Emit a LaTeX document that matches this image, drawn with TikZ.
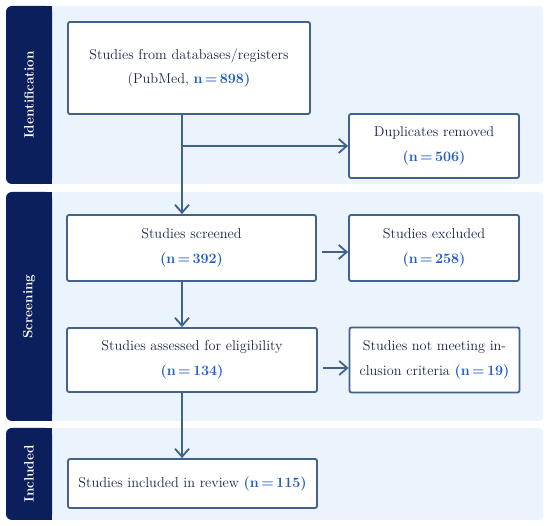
\documentclass[tikz,border=0pt]{standalone}
\usetikzlibrary{arrows.meta,positioning}
\definecolor{navy}{HTML}{0B1F5C}
\definecolor{pale}{HTML}{EBF3FD}
\definecolor{frame}{HTML}{41628A}
\definecolor{nblue}{HTML}{1F5CC8}
\definecolor{ink}{HTML}{1A2748}
\newcommand{\nval}[1]{\textcolor{nblue}{\textbf{#1}}}

\begin{document}
\begin{tikzpicture}[x=1pt,y=1pt,>={Straight Barb[length=8pt,width=14pt]},node distance=242.5pt]

	% Define node styles
	\tikzstyle{stage box} = [draw=frame, line width=1.8pt, rounded corners=2pt, fill=white, text=ink, align=center, font=\fontsize{14.3}{24.5}\selectfont, inner sep=0pt]
	\tikzstyle{band label} = [rotate=90, text=white, font=\fontsize{13.5}{15}\selectfont\bfseries]
	\tikzstyle{flow} = [draw=frame, line width=1.8pt, ->]

	\useasboundingbox (0,0) rectangle (550,526);

	% Draw the three bands
	\foreach \ytop/\ybot/\lab [count=\i] in {520/342/Identification, 334/105/Screening, 98/6/Included} {
		\fill[pale, rounded corners=4pt] (6,\ytop) rectangle (543,\ybot);
		\fill[navy, rounded corners=6pt] (6,\ytop) rectangle (52,\ybot);
		\fill[navy] (30,\ytop) rectangle (52,\ybot);
		\node[band label] (band\i) at (29,{(\ytop+\ybot)/2}) {\lab};
	}

	% Place boxes
	\node[stage box, minimum width=242pt, minimum height=92pt] (db) at (189,458) {Studies from databases/registers\\(PubMed, \nval{n\,=\,898)}};
	\node[stage box, minimum width=170pt, minimum height=64pt] (dup) at (434,380) {Duplicates removed\\\nval{(n\,=\,506)}};

	\node[stage box, minimum width=249pt, minimum height=66pt] (screened) at (191.5,278) {Studies screened\\\nval{(n\,=\,392)}};
	\node[stage box, minimum width=170pt, minimum height=66pt] (excl) [right of=screened] {Studies excluded\\\nval{(n\,=\,258)}};

	\node[stage box, minimum width=250pt, minimum height=64pt] (elig) at (192,166) {Studies assessed for eligibility\\\nval{(n\,=\,134)}};
	\node[stage box, minimum width=170pt, minimum height=65pt] (notmeet) [right of=elig] {Studies not meeting in-\\clusion criteria \nval{(n\,=\,19)}};

	\node[stage box, minimum width=249pt, minimum height=49pt] (incl) at (192.5,42.5) {Studies included in review \nval{(n\,=\,115)}};

	\coordinate (trunk) at (182,0);

	% Draw edges
	\foreach \source/\dest in {db/screened, screened/elig, elig/incl}
	\draw[flow] (\source.south -| trunk) -- (\dest.north -| trunk);

	\draw[flow] (trunk |- dup.west) -- (dup.west);

	\foreach \source/\dest/\dy in {screened/excl/-4, elig/notmeet/-8}
	\draw[flow, shorten <=5pt] ([yshift=\dy pt]\source.east) -- ([yshift=\dy pt]\source.east -| \dest.west);

\end{tikzpicture}
\end{document}
